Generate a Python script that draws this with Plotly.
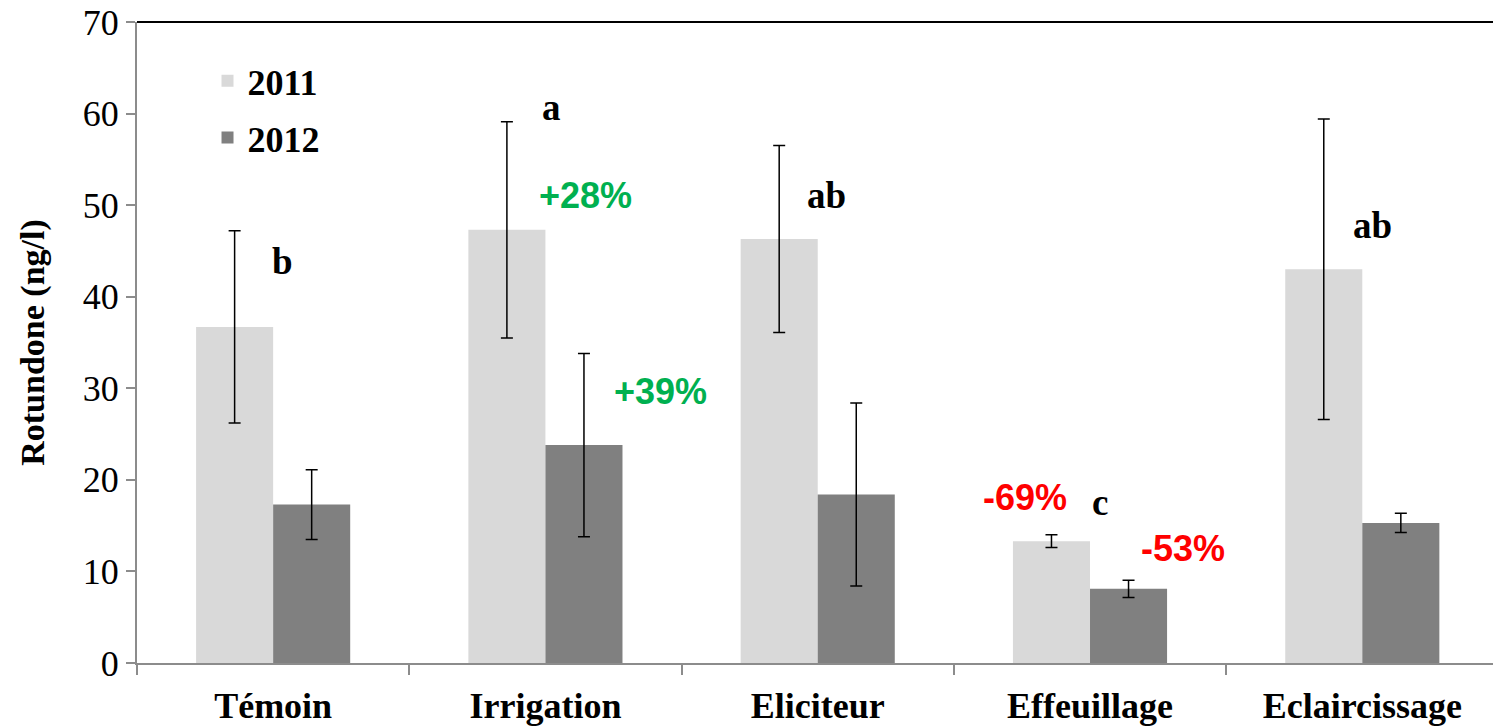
import plotly.graph_objects as go

# Rotundone concentration by vineyard treatment, two vintages
categories = ["Témoin", "Irrigation", "Eliciteur", "Effeuillage", "Eclaircissage"]
values_2011 = [36.7, 47.3, 46.3, 13.3, 43.0]
errors_2011 = [10.5, 11.8, 10.2, 0.7, 16.4]
values_2012 = [17.3, 23.8, 18.4, 8.1, 15.3]
errors_2012 = [3.8, 10.0, 10.0, 0.95, 1.05]

# statistical group letters
letters = ["b", "a", "ab", "c", "ab"]
letter_y = [43.8, 60.7, 51.1, 17.5, 47.8]
letter_dx = [-0.01, -0.02, -0.045, 0.0, -0.04]

# percentage changes relative to the control
pct_labels = ["+28%", "+39%", "-69%", "-53%"]
pct_cat = [1, 1, 3, 3]
pct_dx = [-0.03, 0.245, -0.40, 0.18]
pct_y = [51.1, 29.7, 18.1, 12.45]
pct_color = ["#00B050", "#00B050", "#FF0000", "#FF0000"]

serif = "Liberation Serif"

fig = go.Figure()
fig.add_trace(go.Bar(
    name="2011", x=categories, y=values_2011, legendgroup="y2011",
    marker=dict(color="#D9D9D9", line=dict(width=0)),
    error_y=dict(type="data", array=errors_2011, color="black", thickness=1.5, width=6),
))
fig.add_trace(go.Bar(
    name="2012", x=categories, y=values_2012, legendgroup="y2012",
    marker=dict(color="#808080", line=dict(width=0)),
    error_y=dict(type="data", array=errors_2012, color="black", thickness=1.5, width=6),
))

for i, (t, yv) in enumerate(zip(letters, letter_y)):
    fig.add_annotation(x=i + letter_dx[i], y=yv, text=f"<b>{t}</b>", showarrow=False,
                       xanchor="left", yanchor="middle",
                       font=dict(family=serif, size=37, color="black"))

for t, c, dx, yv, col in zip(pct_labels, pct_cat, pct_dx, pct_y, pct_color):
    fig.add_annotation(x=c + dx, y=yv, text=f"<b>{t}</b>", showarrow=False,
                       xanchor="left", yanchor="middle",
                       font=dict(family="Liberation Sans", size=36, color=col))

# black frame line along the top of the plot area
fig.add_shape(type="line", xref="paper", yref="paper", x0=0, x1=1, y0=1, y1=1,
              line=dict(color="black", width=2))

fig.update_layout(
    width=1493, height=727,
    margin=dict(l=137, r=0, t=22, b=64),
    paper_bgcolor="white", plot_bgcolor="white",
    barmode="group", bargap=0.434, bargroupgap=0,
    showlegend=True,
    legend=dict(x=0.052, y=0.955, xanchor="left", yanchor="top",
                traceorder="grouped", tracegroupgap=7,
                font=dict(family=serif, size=36, color="black", weight="bold"),
                bgcolor="rgba(0,0,0,0)", itemwidth=30),
    xaxis=dict(
        range=[-0.5, 4.48], showgrid=False, zeroline=False,
        showline=True, linecolor="#8C8C8C", linewidth=2,
        ticks="outside", tickson="boundaries", ticklen=10, tickcolor="#8C8C8C", tickwidth=2,
        ticklabelstandoff=10,
        tickfont=dict(family=serif, size=36, color="black", weight="bold"),
    ),
    yaxis=dict(
        range=[0, 70], dtick=10, showgrid=False, zeroline=False,
        showline=True, linecolor="#8C8C8C", linewidth=2,
        ticks="outside", ticklen=9, tickcolor="#8C8C8C", tickwidth=2,
        tickfont=dict(family=serif, size=36, color="black"),
        title=dict(text="Rotundone (ng/l)", standoff=28,
                   font=dict(family=serif, size=34, color="black", weight="bold")),
    ),
)

fig.write_html("out.html")
